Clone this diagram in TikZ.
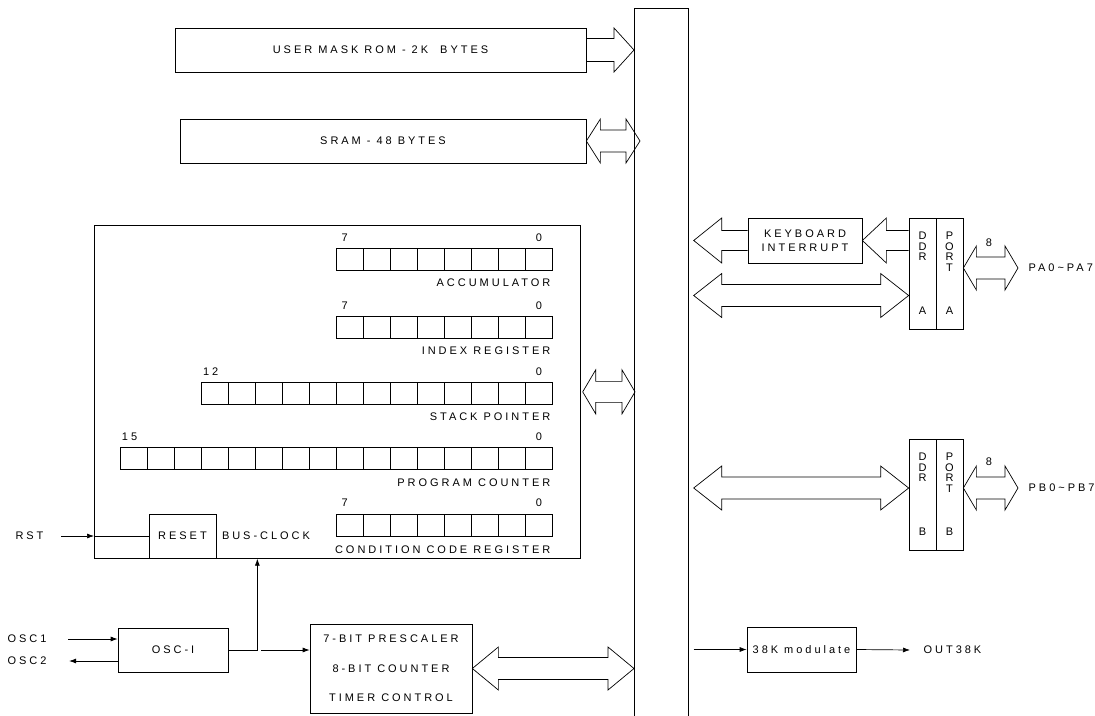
\documentclass[tikz,border=0pt]{standalone}
\usepackage{fontspec}
\setmainfont{Liberation Sans}
\newfontfamily\lbl[LetterSpace=27]{Liberation Sans}
\usetikzlibrary{calc,arrows.meta}
\tikzstyle{blk} = [draw, inner sep=0pt, align=center]
\tikzstyle{bitcell} = [draw, minimum width=27pt, minimum height=22pt, inner sep=0pt]
\tikzstyle{reg} = [anchor=north east, inner sep=0pt, column sep=-.7pt, ampersand replacement=\&]
\tikzstyle{sig} = [-{Latex[length=7pt,width=5pt]}]
\tikzstyle{col} = [blk, minimum width=27, minimum height=111, font={\lbl\fontsize{11pt}{10.5pt}\selectfont}]
\newcommand{\cel}{\node [bitcell] {};}
% fat bus arrows: tips #1 #2, shaft half #3, head half #4, head length #5
\newcommand{\dbl}[5]{\draw let \p1=#1, \p2=#2 in (\p1) -- (\x1+#5,\y1+#4) -- (\x1+#5,\y1+#3)
  -- (\x2-#5,\y1+#3) -- (\x2-#5,\y1+#4) -- (\x2,\y1) -- (\x2-#5,\y1-#4) -- (\x2-#5,\y1-#3)
  -- (\x1+#5,\y1-#3) -- (\x1+#5,\y1-#4) -- cycle;}
\newcommand{\rarr}[5]{\draw let \p1=#1, \p2=#2 in (\x1,\y1+#3) -- (\x2-#5,\y1+#3) -- (\x2-#5,\y1+#4)
  -- (\x2,\y1) -- (\x2-#5,\y1-#4) -- (\x2-#5,\y1-#3) -- (\x1,\y1-#3);}
\newcommand{\larr}[5]{\draw let \p1=#1, \p2=#2 in (\x2,\y1+#3) -- (\x1+#5,\y1+#3) -- (\x1+#5,\y1+#4)
  -- (\x1,\y1) -- (\x1+#5,\y1-#4) -- (\x1+#5,\y1-#3) -- (\x2,\y1-#3);}

\begin{document}
\begin{tikzpicture}[x=1pt, y=-1pt, line width=.7pt, font={\lbl\fontsize{11pt}{13pt}\selectfont}]
\fill[white] (0,0) rectangle (1095,715);
\useasboundingbox (0,0) rectangle (1095,715);

% internal bus
\node[draw, minimum width=54, minimum height=720, anchor=north west, inner sep=0pt] (bus) at (634,8) {};

% memories
\node[blk, minimum width=411, minimum height=44] (rom) at (380.5,50) {USER MASK ROM - 2K~~BYTES};
\node[blk, minimum width=406, minimum height=44] (sram) at (383,141) {SRAM - 48 BYTES};
\rarr{(rom.east)}{(bus.west |- rom.east)}{11.5pt}{22pt}{20pt}
\dbl{(sram.east)}{($(bus.west |- sram.east)+(6,0)$)}{11pt}{22pt}{14pt}

% cpu
\node[draw, minimum width=486, minimum height=333, anchor=north west, inner sep=0pt] (cpu) at (94,225) {};
\dbl{($(cpu.east)+(2,0)$)}{($(bus.west |- cpu.east)+(1,0)$)}{10.5pt}{22pt}{13pt}

\matrix (acc) [reg] at (553,248) {
  \cel \& \cel \& \cel \& \cel \& \cel \& \cel \& \cel \& \cel \\
};
\node (acc7) at ($(acc.north west)+(9,-10)$) {7};
\node (acc0) at ($(acc.north east)+(-14,-10)$) {0};
\node[anchor=east] (acclbl) at ($(acc.south east)+(1,11)$) {ACCUMULATOR};

\matrix (idx) [reg] at (553,316) {
  \cel \& \cel \& \cel \& \cel \& \cel \& \cel \& \cel \& \cel \\
};
\node (idx7) at ($(idx.north west)+(9,-10)$) {7};
\node (idx0) at ($(idx.north east)+(-14,-10)$) {0};
\node[anchor=east] (idxlbl) at ($(idx.south east)+(1,11)$) {INDEX REGISTER};

\matrix (sp) [reg] at (553,382) {
  \cel \& \cel \& \cel \& \cel \& \cel \& \cel \& \cel \& \cel \& \cel \& \cel \& \cel \& \cel \& \cel \\
};
\node (sp12) at ($(sp.north west)+(10,-10)$) {12};
\node (sp0) at ($(sp.north east)+(-14,-10)$) {0};
\node[anchor=east] (splbl) at ($(sp.south east)+(1,11)$) {STACK POINTER};

\matrix (pc) [reg] at (553,447) {
  \cel \& \cel \& \cel \& \cel \& \cel \& \cel \& \cel \& \cel \& \cel \& \cel \& \cel \& \cel \& \cel \& \cel \& \cel \& \cel \\
};
\node (pc15) at ($(pc.north west)+(10,-10)$) {15};
\node (pc0) at ($(pc.north east)+(-14,-10)$) {0};
\node[anchor=east] (pclbl) at ($(pc.south east)+(1,12)$) {PROGRAM COUNTER};

\matrix (ccr) [reg] at (553,514) {
  \cel \& \cel \& \cel \& \cel \& \cel \& \cel \& \cel \& \cel \\
};
\node (ccr7) at ($(ccr.north west)+(9,-11)$) {7};
\node (ccr0) at ($(ccr.north east)+(-14,-11)$) {0};
\node[anchor=east] (ccrlbl) at ($(ccr.south east)+(1,12)$) {CONDITION CODE REGISTER};

% reset and clocks
\node[blk, minimum width=67, minimum height=44] (reset) at (182.5,536) {RESET};
\node (busclk) at (266,536) {BUS-CLOCK};
\node (rst) at (29.5,536) {RST};
\draw[sig] ($(rst.east)+(14,0)$) -- (cpu.west |- rst.east);
\draw (cpu.west |- rst.east) -- (reset.west |- rst.east);

\node[blk, minimum width=110, minimum height=44] (osc) at (173,650) {OSC-I};
\node (osc1) at (27,639) {OSC1};
\node (osc2) at (27,661) {OSC2};
\draw[sig] ($(osc1.east)+(18,0)$) -- (osc1.east -| osc.west);
\draw[sig] (osc2.east -| osc.west) -- ($(osc2.east)+(19,0)$);
\draw[sig] (osc.east) -- ++(29,0) coordinate (bend) -- (bend |- cpu.south);

% timer
\node[blk, minimum width=162, minimum height=89, font={\lbl\fontsize{11pt}{29.5pt}\selectfont}] (timer) at (391,668.5)
  {7-BIT PRESCALER\\8-BIT COUNTER\\TIMER CONTROL};
\draw[sig] ($(bend)+(4,0)$) -- (timer.west |- bend);
\dbl{(timer.east)}{(bus.west |- timer.east)}{11pt}{21.5pt}{26pt}

% keyboard and port A
\node[blk, minimum width=114, minimum height=45, font={\lbl\fontsize{11pt}{14pt}\selectfont}] (kbd) at (805,240.5)
  {KEYBOARD\\INTERRUPT};
\node[col] (ddra) at (922.5,273.5) {D\\D\\R\\[43.5pt]A};
\node[col] (porta) at (949.5,273.5) {P\\O\\R\\T\\[33pt]A};
\node[anchor=west] (pa) at (1025,268) {PA0\textasciitilde PA7};
\node (pa8) at (989,243) {8};
\larr{($(bus.east |- kbd.west)+(5,0)$)}{(kbd.west)}{10pt}{22.5pt}{28pt}
\larr{(kbd.east)}{(ddra.west |- kbd.east)}{10pt}{22.5pt}{24pt}
\dbl{($(bus.east |- ddra.west)+(5,22)$)}{($(ddra.west)+(0,22)$)}{11pt}{22pt}{28pt}
\dbl{(porta.east |- pa.west)}{($(pa.west)+(-7,0)$)}{11pt}{22pt}{13pt}

% port B
\node[col] (ddrb) at (922.5,494.5) {D\\D\\R\\[43.5pt]B};
\node[col] (portb) at (949.5,494.5) {P\\O\\R\\T\\[33pt]B};
\node[anchor=west] (pb) at (1025,488) {PB0\textasciitilde PB7};
\node (pb8) at (989,462) {8};
\dbl{($(bus.east |- pb.west)+(5,0)$)}{(ddrb.west |- pb.west)}{11pt}{22pt}{28pt}
\dbl{(portb.east |- pb.west)}{($(pb.west)+(-7,0)$)}{11pt}{22pt}{13pt}

% 38k output
\node[blk, minimum width=109, minimum height=45] (mod) at (801.5,649.5) {38K modulate};
\node[anchor=west] (out) at (920,650) {OUT38K};
\draw[sig] ($(bus.east |- mod.west)+(5,0)$) -- (mod.west);
\draw[sig] (mod.east) -- ($(out.west)+(-10,0)$);
\end{tikzpicture}
\end{document}
